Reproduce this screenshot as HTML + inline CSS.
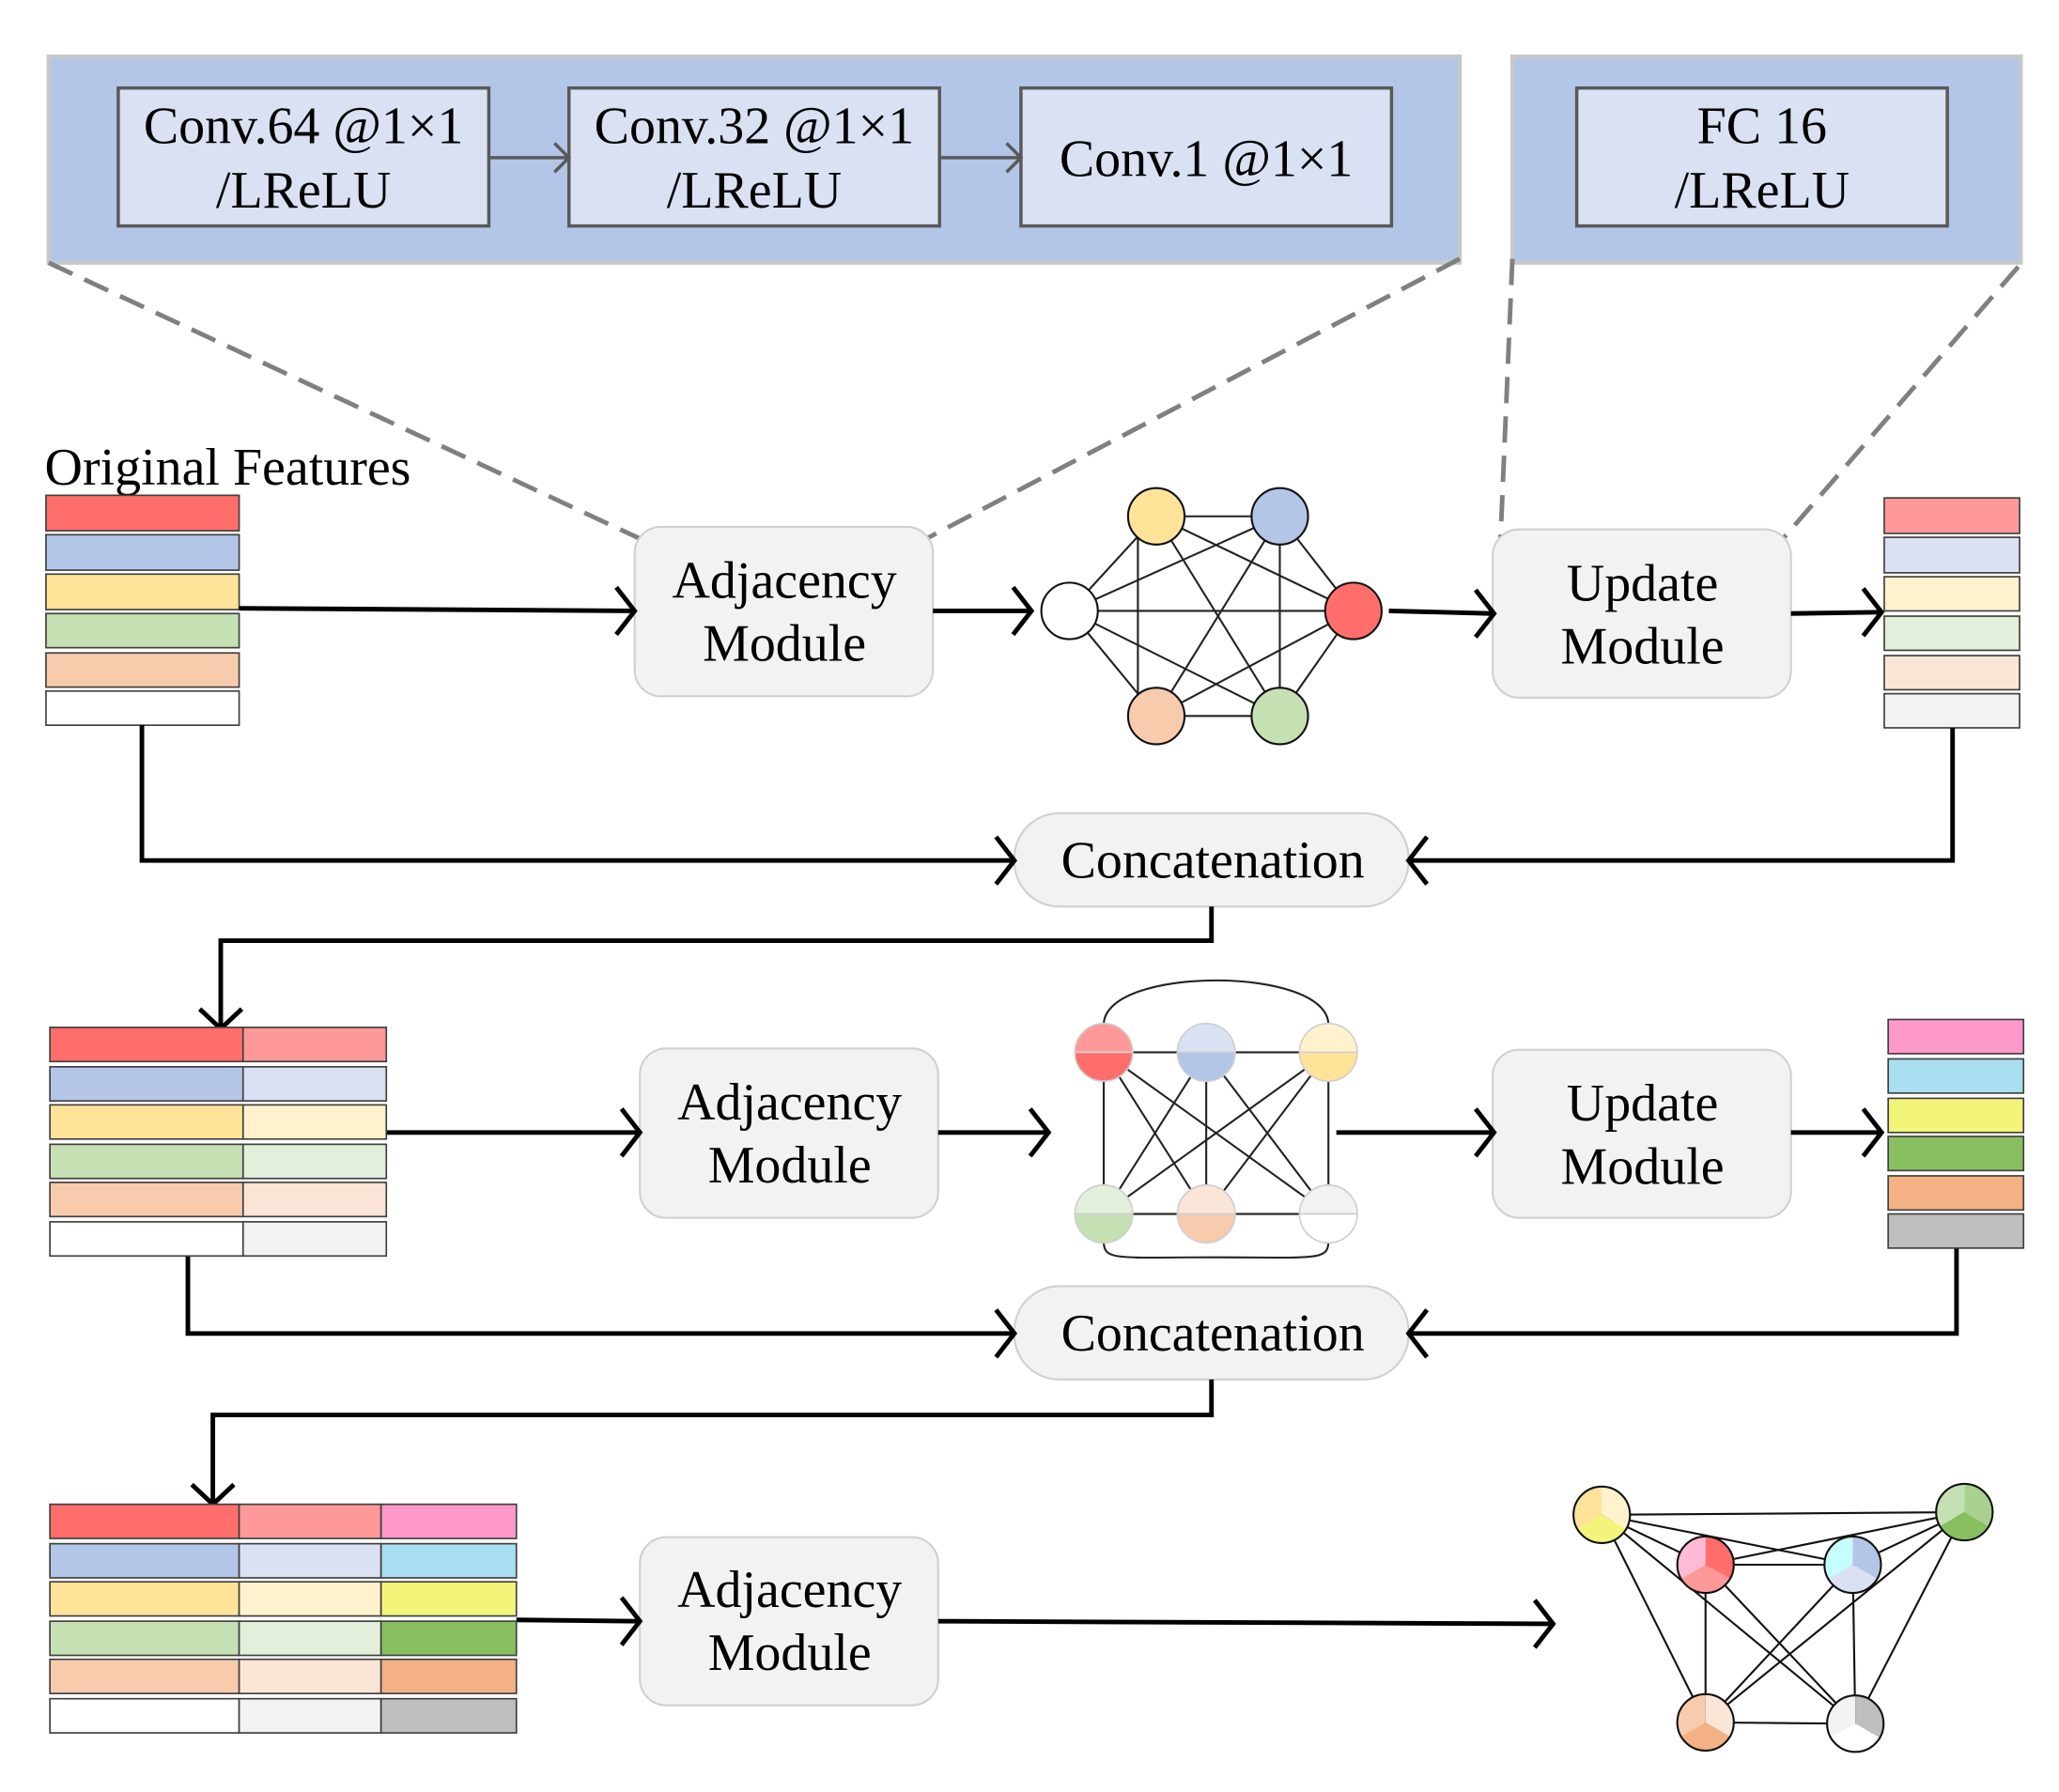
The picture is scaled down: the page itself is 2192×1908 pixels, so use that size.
<!DOCTYPE html>
<html><head><meta charset="utf-8"><style>html,body{margin:0;padding:0;background:#fff}svg{display:block}</style></head>
<body>
<svg width="2192" height="1908" viewBox="0 0 1567 1364" preserveAspectRatio="none" xmlns="http://www.w3.org/2000/svg" font-family="'Liberation Serif', serif">
<rect x="37" y="43" width="1074" height="157" fill="#b4c6e7" stroke="#c8c8c8" stroke-width="3"/>
<rect x="1151" y="43" width="387" height="157" fill="#b4c6e7" stroke="#c8c8c8" stroke-width="3"/>
<g fill="#dae1f3" stroke="#595959" stroke-width="2.5">
<rect x="90" y="67" width="282" height="105"/>
<rect x="433" y="67" width="282" height="105"/>
<rect x="777" y="67" width="282" height="105"/>
<rect x="1200" y="67" width="282" height="105"/>
</g>
<g stroke="#595959" stroke-width="2.5" fill="none">
<line x1="372" y1="120" x2="432" y2="120"/><polyline points="422,109 433,120 422,131"/>
<line x1="715" y1="120" x2="776" y2="120"/><polyline points="766,109 777,120 766,131"/>
</g>
<g font-size="40" text-anchor="middle" fill="#000">
<text x="231" y="109">Conv.64 @1×1</text><text x="231" y="158">/LReLU</text>
<text x="574" y="109">Conv.32 @1×1</text><text x="574" y="158">/LReLU</text>
<text x="918" y="134">Conv.1 @1×1</text>
<text x="1341" y="109">FC 16</text><text x="1341" y="158">/LReLU</text>
</g>
<g stroke="#808080" stroke-width="3.5" stroke-dasharray="20,10" fill="none">
<line x1="37" y1="200" x2="487" y2="410"/>
<line x1="1111" y1="197" x2="705" y2="410"/>
<line x1="1151" y1="197" x2="1142" y2="410"/>
<line x1="1536" y1="203" x2="1357" y2="410"/>
</g>
<text x="34" y="369" font-size="40">Original Features</text>
<g stroke="#404040" stroke-width="1.2">
<rect x="35" y="377" width="147" height="27" fill="#ff6e6b"/>
<rect x="35" y="407" width="147" height="27" fill="#b4c6e7"/>
<rect x="35" y="437" width="147" height="27" fill="#ffe399"/>
<rect x="35" y="467" width="147" height="26" fill="#c5e0b3"/>
<rect x="35" y="497" width="147" height="26" fill="#f8cbad"/>
<rect x="35" y="526" width="147" height="26" fill="#ffffff"/>
</g>
<g stroke="#404040" stroke-width="1.2">
<rect x="1434" y="379" width="103" height="27" fill="#ff9999"/>
<rect x="1434" y="409" width="103" height="27" fill="#dae1f3"/>
<rect x="1434" y="439" width="103" height="26" fill="#fff2cc"/>
<rect x="1434" y="469" width="103" height="26" fill="#e2efda"/>
<rect x="1434" y="499" width="103" height="26" fill="#fbe5d6"/>
<rect x="1434" y="528" width="103" height="26" fill="#f2f2f2"/>
</g>
<g fill="#f2f2f2" stroke="#d0d0d0" stroke-width="1.5">
<rect x="483" y="401" width="227" height="129" rx="20"/>
<rect x="1136" y="403" width="227" height="128" rx="20"/>
<rect x="772" y="619" width="300" height="71" rx="34"/>
<rect x="487" y="798" width="227" height="129" rx="20"/>
<rect x="1136" y="799" width="227" height="128" rx="20"/>
<rect x="772" y="979" width="300" height="71" rx="34"/>
<rect x="487" y="1170" width="227" height="128" rx="20"/>
</g>
<g font-size="40" text-anchor="middle" fill="#000">
<text x="597" y="455">Adjacency</text><text x="597" y="503">Module</text>
<text x="1250" y="457">Update</text><text x="1250" y="505">Module</text>
<text x="923" y="668">Concatenation</text>
<text x="601" y="852">Adjacency</text><text x="601" y="900">Module</text>
<text x="1250" y="853">Update</text><text x="1250" y="901">Module</text>
<text x="923" y="1028">Concatenation</text>
<text x="601" y="1223">Adjacency</text><text x="601" y="1271">Module</text>
</g>
<g stroke="#000" stroke-width="3.5" fill="none" stroke-linejoin="miter">
<line x1="182" y1="463" x2="482" y2="465"/><polyline points="469,447 483,465 469,483"/>
<line x1="710" y1="465" x2="784" y2="465"/><polyline points="771,447 785,465 771,483"/>
<line x1="1057" y1="465" x2="1136" y2="467"/><polyline points="1123,449 1137,467 1123,485"/>
<line x1="1363" y1="467" x2="1431" y2="466"/><polyline points="1418,448 1432,466 1418,484"/>
<polyline points="108,552 108,655 771,655"/><polyline points="758,637 772,655 758,673"/>
<polyline points="1486,554 1486,655 1073,655"/><polyline points="1086,637 1072,655 1086,673"/>
<polyline points="922,690 922,716 168,716 168,782"/><polyline points="152,768 168,783 184,768"/>
<line x1="294" y1="862" x2="486" y2="862"/><polyline points="473,844 487,862 473,880"/>
<line x1="714" y1="862" x2="797" y2="862"/><polyline points="784,844 798,862 784,880"/>
<line x1="1017" y1="862" x2="1136" y2="862"/><polyline points="1123,844 1137,862 1123,880"/>
<line x1="1363" y1="862" x2="1431" y2="862"/><polyline points="1418,844 1432,862 1418,880"/>
<polyline points="143,956 143,1015 771,1015"/><polyline points="758,997 772,1015 758,1033"/>
<polyline points="1489,950 1489,1015 1073,1015"/><polyline points="1086,997 1072,1015 1086,1033"/>
<polyline points="922,1050 922,1077 162,1077 162,1144"/><polyline points="146,1130 162,1145 178,1130"/>
<line x1="393" y1="1233" x2="486" y2="1234"/><polyline points="473,1216 487,1234 473,1252"/>
<line x1="714" y1="1234" x2="1181" y2="1236"/><polyline points="1168,1218 1182,1236 1168,1254"/>
</g>
<g stroke="#404040" stroke-width="1.2">
<rect x="38" y="782" width="147" height="26" fill="#ff6e6b"/><rect x="185" y="782" width="109" height="26" fill="#ff9999"/>
<rect x="38" y="812" width="147" height="26" fill="#b4c6e7"/><rect x="185" y="812" width="109" height="26" fill="#dae1f3"/>
<rect x="38" y="841" width="147" height="26" fill="#ffe399"/><rect x="185" y="841" width="109" height="26" fill="#fff2cc"/>
<rect x="38" y="871" width="147" height="26" fill="#c5e0b3"/><rect x="185" y="871" width="109" height="26" fill="#e2efda"/>
<rect x="38" y="900" width="147" height="26" fill="#f8cbad"/><rect x="185" y="900" width="109" height="26" fill="#fbe5d6"/>
<rect x="38" y="930" width="147" height="26" fill="#ffffff"/><rect x="185" y="930" width="109" height="26" fill="#f2f2f2"/>
</g>
<g stroke="#404040" stroke-width="1.2">
<rect x="1437" y="776" width="103" height="26" fill="#ff99cc"/>
<rect x="1437" y="806" width="103" height="26" fill="#a9dff0"/>
<rect x="1437" y="836" width="103" height="26" fill="#f2f57a"/>
<rect x="1437" y="865" width="103" height="26" fill="#88bf60"/>
<rect x="1437" y="895" width="103" height="26" fill="#f4b183"/>
<rect x="1437" y="924" width="103" height="26" fill="#bfbfbf"/>
</g>
<g stroke="#404040" stroke-width="1.2">
<rect x="38" y="1145" width="144" height="26" fill="#ff6e6b"/><rect x="182" y="1145" width="108" height="26" fill="#ff9999"/><rect x="290" y="1145" width="103" height="26" fill="#ff99cc"/>
<rect x="38" y="1175" width="144" height="26" fill="#b4c6e7"/><rect x="182" y="1175" width="108" height="26" fill="#dae1f3"/><rect x="290" y="1175" width="103" height="26" fill="#a9dff0"/>
<rect x="38" y="1204" width="144" height="26" fill="#ffe399"/><rect x="182" y="1204" width="108" height="26" fill="#fff2cc"/><rect x="290" y="1204" width="103" height="26" fill="#f2f57a"/>
<rect x="38" y="1234" width="144" height="26" fill="#c5e0b3"/><rect x="182" y="1234" width="108" height="26" fill="#e2efda"/><rect x="290" y="1234" width="103" height="26" fill="#88bf60"/>
<rect x="38" y="1263" width="144" height="26" fill="#f8cbad"/><rect x="182" y="1263" width="108" height="26" fill="#fbe5d6"/><rect x="290" y="1263" width="103" height="26" fill="#f4b183"/>
<rect x="38" y="1293" width="144" height="26" fill="#ffffff"/><rect x="182" y="1293" width="108" height="26" fill="#f2f2f2"/><rect x="290" y="1293" width="103" height="26" fill="#bfbfbf"/>
</g>
<g stroke="#222" stroke-width="1.5">
<line x1="814" y1="465" x2="880" y2="393"/><line x1="814" y1="465" x2="974" y2="393"/><line x1="814" y1="465" x2="1030" y2="465"/>
<line x1="814" y1="465" x2="880" y2="545"/><line x1="814" y1="465" x2="974" y2="545"/>
<line x1="880" y1="393" x2="974" y2="393"/><line x1="880" y1="393" x2="1030" y2="465"/><line x1="866" y1="400" x2="866" y2="540"/>
<line x1="880" y1="393" x2="974" y2="545"/><line x1="974" y1="393" x2="1030" y2="465"/><line x1="974" y1="393" x2="880" y2="545"/>
<line x1="974" y1="400" x2="974" y2="540"/><line x1="1030" y1="465" x2="880" y2="545"/><line x1="1030" y1="465" x2="974" y2="545"/>
<line x1="880" y1="545" x2="974" y2="545"/>
</g>
<g stroke="#111" stroke-width="1.5">
<circle cx="814" cy="465" r="21.5" fill="#fff"/><circle cx="880" cy="393" r="21.5" fill="#ffe399"/>
<circle cx="974" cy="393" r="21.5" fill="#b4c6e7"/><circle cx="1030" cy="465" r="21.5" fill="#ff6e6b"/>
<circle cx="880" cy="545" r="21.5" fill="#f8cbad"/><circle cx="974" cy="545" r="21.5" fill="#c5e0b3"/>
</g>
<g stroke="#222" stroke-width="1.5" fill="none">
<line x1="840" y1="801" x2="1011" y2="801"/><line x1="840" y1="924" x2="1011" y2="924"/>
<line x1="840" y1="801" x2="840" y2="924"/><line x1="918" y1="801" x2="918" y2="924"/><line x1="1011" y1="801" x2="1011" y2="924"/>
<line x1="840" y1="801" x2="918" y2="924"/><line x1="840" y1="801" x2="1011" y2="924"/>
<line x1="918" y1="801" x2="840" y2="924"/><line x1="918" y1="801" x2="1011" y2="924"/>
<line x1="1011" y1="801" x2="840" y2="924"/><line x1="1011" y1="801" x2="918" y2="924"/>
<path d="M840,780 C840,735 1011,735 1011,780"/>
<path d="M840,945 C840,960 850,957 925,957 C1000,957 1011,960 1011,945"/>
</g>
<g stroke="#cfcfcf" stroke-width="1.2">
<path d="M818,801 A22,22 0 0 1 862,801 Z" fill="#ff9999"/><path d="M818,801 A22,22 0 0 0 862,801 Z" fill="#ff6e6b"/>
<path d="M896,801 A22,22 0 0 1 940,801 Z" fill="#dae1f3"/><path d="M896,801 A22,22 0 0 0 940,801 Z" fill="#b4c6e7"/>
<path d="M989,801 A22,22 0 0 1 1033,801 Z" fill="#fff2cc"/><path d="M989,801 A22,22 0 0 0 1033,801 Z" fill="#ffe399"/>
<path d="M818,924 A22,22 0 0 1 862,924 Z" fill="#e2efda"/><path d="M818,924 A22,22 0 0 0 862,924 Z" fill="#c5e0b3"/>
<path d="M896,924 A22,22 0 0 1 940,924 Z" fill="#fbe5d6"/><path d="M896,924 A22,22 0 0 0 940,924 Z" fill="#f8cbad"/>
<path d="M989,924 A22,22 0 0 1 1033,924 Z" fill="#f2f2f2"/><path d="M989,924 A22,22 0 0 0 1033,924 Z" fill="#ffffff"/>
</g>
<g stroke="#111" stroke-width="1.5">
<line x1="1219" y1="1153" x2="1495" y2="1151"/><line x1="1219" y1="1153" x2="1410" y2="1191"/><line x1="1219" y1="1153" x2="1298" y2="1191"/>
<line x1="1219" y1="1153" x2="1298" y2="1311"/><line x1="1219" y1="1153" x2="1412" y2="1312"/>
<line x1="1495" y1="1151" x2="1298" y2="1191"/><line x1="1495" y1="1151" x2="1410" y2="1191"/><line x1="1495" y1="1151" x2="1298" y2="1311"/>
<line x1="1495" y1="1151" x2="1412" y2="1312"/><line x1="1298" y1="1191" x2="1410" y2="1191"/><line x1="1298" y1="1191" x2="1298" y2="1311"/>
<line x1="1298" y1="1191" x2="1412" y2="1312"/><line x1="1410" y1="1191" x2="1298" y2="1311"/><line x1="1410" y1="1191" x2="1412" y2="1312"/>
<line x1="1298" y1="1311" x2="1412" y2="1312"/>
</g>
<g stroke="none">
<path d="M1219,1153 L1219,1132 A21,21 0 0 0 1200.8,1163.5 Z" fill="#ffe399"/><path d="M1219,1153 L1219,1132 A21,21 0 0 1 1237.2,1163.5 Z" fill="#fff2cc"/><path d="M1219,1153 L1237.2,1163.5 A21,21 0 0 1 1200.8,1163.5 Z" fill="#f2f57a"/>
<path d="M1495,1151 L1495,1130 A21,21 0 0 0 1476.8,1161.5 Z" fill="#c5e0b3"/><path d="M1495,1151 L1495,1130 A21,21 0 0 1 1513.2,1161.5 Z" fill="#a9d08e"/><path d="M1495,1151 L1513.2,1161.5 A21,21 0 0 1 1476.8,1161.5 Z" fill="#88bf60"/>
<path d="M1298,1191 L1298,1170 A21,21 0 0 0 1279.8,1201.5 Z" fill="#ffbbd5"/><path d="M1298,1191 L1298,1170 A21,21 0 0 1 1316.2,1201.5 Z" fill="#ff6e6b"/><path d="M1298,1191 L1316.2,1201.5 A21,21 0 0 1 1279.8,1201.5 Z" fill="#ff9999"/>
<path d="M1410,1191 L1410,1170 A21,21 0 0 0 1391.8,1201.5 Z" fill="#c5ffff"/><path d="M1410,1191 L1410,1170 A21,21 0 0 1 1428.2,1201.5 Z" fill="#b4c6e7"/><path d="M1410,1191 L1428.2,1201.5 A21,21 0 0 1 1391.8,1201.5 Z" fill="#dae1f3"/>
<path d="M1298,1311 L1298,1290 A21,21 0 0 0 1279.8,1321.5 Z" fill="#f8cbad"/><path d="M1298,1311 L1298,1290 A21,21 0 0 1 1316.2,1321.5 Z" fill="#fbe5d6"/><path d="M1298,1311 L1316.2,1321.5 A21,21 0 0 1 1279.8,1321.5 Z" fill="#f4b183"/>
<path d="M1412,1312 L1412,1291 A21,21 0 0 0 1393.8,1322.5 Z" fill="#f2f2f2"/><path d="M1412,1312 L1412,1291 A21,21 0 0 1 1430.2,1322.5 Z" fill="#bfbfbf"/><path d="M1412,1312 L1430.2,1322.5 A21,21 0 0 1 1393.8,1322.5 Z" fill="#ffffff"/>
</g>
<g fill="none" stroke="#111" stroke-width="1.5">
<circle cx="1219" cy="1153" r="21.5"/><circle cx="1495" cy="1151" r="21.5"/><circle cx="1298" cy="1191" r="21.5"/>
<circle cx="1410" cy="1191" r="21.5"/><circle cx="1298" cy="1311" r="21.5"/><circle cx="1412" cy="1312" r="21.5"/>
</g>
</svg>
</body></html>
